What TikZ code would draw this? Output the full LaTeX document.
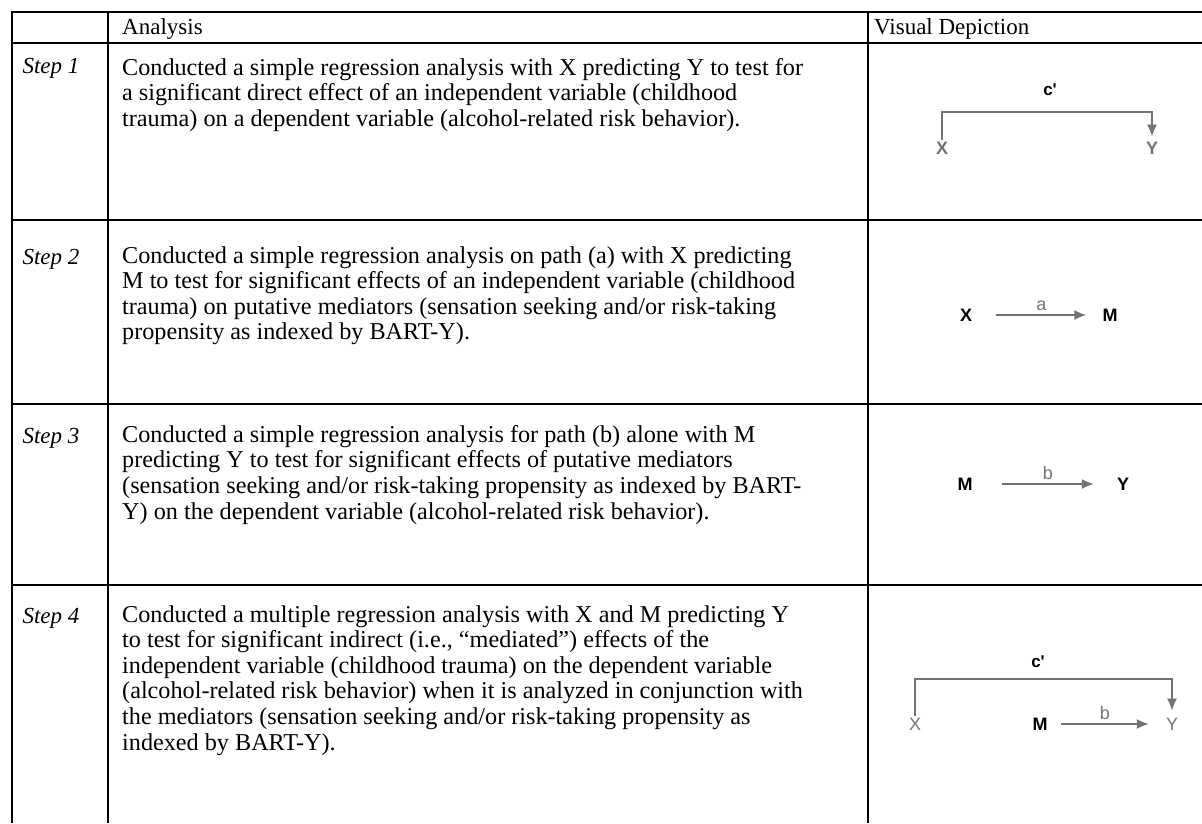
\documentclass[tikz,border=0pt]{standalone}
\usepackage{fontspec}
\setmainfont{Liberation Serif}
\newfontfamily\diagfont{Liberation Sans}
\usetikzlibrary{arrows.meta}
\definecolor{arrgray}{RGB}{115,115,115}
\tikzset{
  rule/.style={line width=1.6pt, black},
  body/.style={anchor=north west, inner sep=0pt, align=left, font=\fontsize{24.2}{25.6}\selectfont},
  hdr/.style={anchor=base west, inner sep=0pt, font=\fontsize{23}{26}\selectfont},
  steplbl/.style={anchor=base, inner sep=0pt, font=\fontsize{23}{26}\selectfont\itshape},
  var/.style={inner sep=2pt, font=\diagfont\bfseries\fontsize{18}{21}\selectfont},
  gvar/.style={var, text=arrgray},
  lbl/.style={inner sep=1pt, font=\diagfont\fontsize{18}{21}\selectfont, text=arrgray},
  blbl/.style={inner sep=1pt, font=\diagfont\bfseries\fontsize{17}{20}\selectfont},
  arr/.style={draw=arrgray, line width=1.4pt, -{Latex[length=12pt,width=10pt]}},
}
\begin{document}
\begin{tikzpicture}[x=1pt,y=-1pt]
\useasboundingbox (0,0) rectangle (1202,823);
% table rules
\coordinate (tl) at (12,12);
\coordinate (tr) at (1202,12);
\coordinate (bl) at (12,823);
\draw[rule] (tr) -- (tl) -- (bl);
\draw[rule] (12,43) -- (1202,43);
\draw[rule] (12,220) -- (1202,220);
\draw[rule] (12,404) -- (1202,404);
\draw[rule] (12,585) -- (1202,585);
\draw[rule] (108,12) -- (108,823);
\draw[rule] (868,12) -- (868,823);
% header
\node[hdr] (hA) at (122,34) {Analysis};
\node[hdr] (hV) at (874,34) {Visual Depiction};
% step labels
\node[steplbl] (s1) at (51,73) {Step 1};
\node[steplbl] (s2) at (51,264) {Step 2};
\node[steplbl] (s3) at (51,443) {Step 3};
\node[steplbl] (s4) at (51,623) {Step 4};
% body texts
\node[body] (t1) at (122,58) {Conducted a simple regression analysis with X predicting Y to test for\\
a significant direct effect of an independent variable (childhood\\
trauma) on a dependent variable (alcohol-related risk behavior).};
\node[body] (t2) at (122,246) {Conducted a simple regression analysis on path (a) with X predicting\\
M to test for significant effects of an independent variable (childhood\\
trauma) on putative mediators (sensation seeking and/or risk-taking\\
propensity as indexed by BART-Y).};
\node[body] (t3) at (122,425) {Conducted a simple regression analysis for path (b) alone with M\\
predicting Y to test for significant effects of putative mediators\\
(sensation seeking and/or risk-taking propensity as indexed by BART-\\
Y) on the dependent variable (alcohol-related risk behavior).};
\node[body] (t4) at (122,605) {Conducted a multiple regression analysis with X and M predicting Y\\
to test for significant indirect (i.e., \textquotedblleft mediated\textquotedblright) effects of the\\
independent variable (childhood trauma) on the dependent variable\\
(alcohol-related risk behavior) when it is analyzed in conjunction with\\
the mediators (sensation seeking and/or risk-taking propensity as\\
indexed by BART-Y).};
% Step 1 diagram
\node[gvar] (X1) at (942,148) {X};
\node[gvar] (Y1) at (1152,148) {Y};
\node[blbl] (c1) at (1050,90) {c\textquotesingle};
\coordinate (k1) at (1050,112);
\draw[arr, shorten >=3pt] (X1.north) |- (k1) -| (Y1.north);
% Step 2 diagram
\node[var] (X2) at (966,315) {X};
\node[var] (M2) at (1110,315) {M};
\draw[arr] ([xshift=22pt]X2.east) -- ([xshift=-14pt]M2.west) node[lbl, midway, above=3pt] (a2) {a};
% Step 3 diagram
\node[var] (M3) at (965,484) {M};
\node[var] (Y3) at (1123,484) {Y};
\draw[arr] ([xshift=27pt]M3.east) -- ([xshift=-21pt]Y3.west) node[lbl, midway, above=3pt] (b3) {b};
% Step 4 diagram
\node[gvar, font=\diagfont\fontsize{18}{21}\selectfont] (X4) at (915,724) {X};
\node[var] (M4) at (1040,724) {M};
\node[gvar, font=\diagfont\fontsize{18}{21}\selectfont] (Y4) at (1172,724) {Y};
\node[blbl] (c4) at (1038,662) {c\textquotesingle};
\coordinate (k4) at (1040,679);
\draw[arr, shorten >=5pt] (X4.north) |- (k4) -| (Y4.north);
\draw[arr] ([xshift=11pt]M4.east) -- ([xshift=-15pt]Y4.west) node[lbl, midway, above=3pt] (b4) {b};
\end{tikzpicture}
\end{document}
